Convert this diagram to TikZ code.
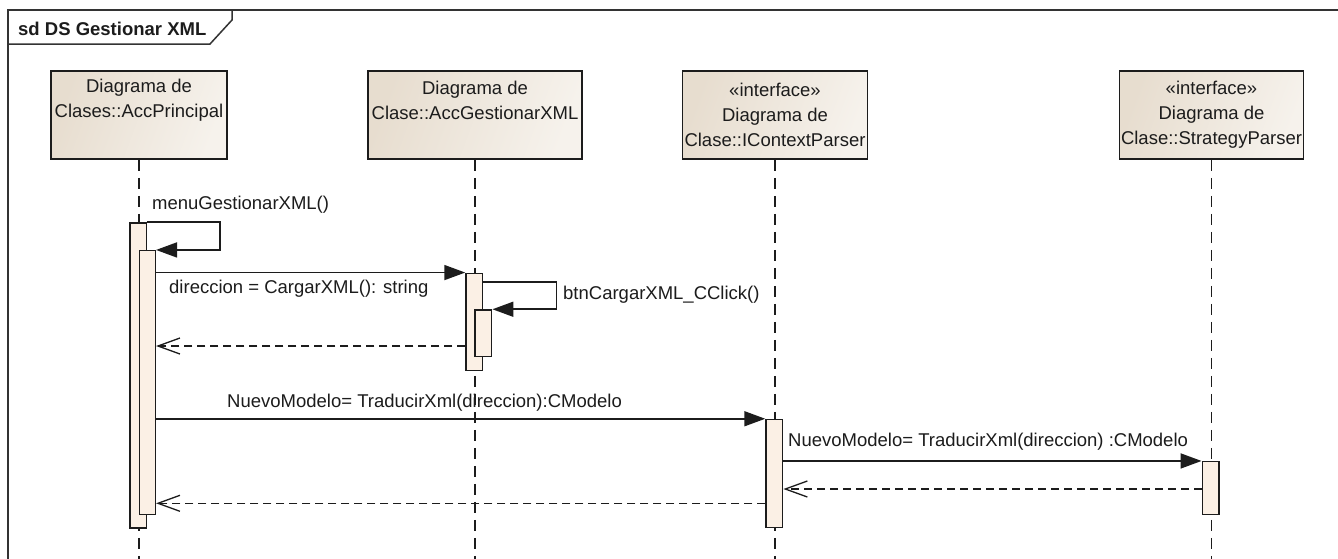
\documentclass[tikz,border=0pt]{standalone}
\usepackage{fontspec}
\setmainfont{Liberation Sans}
\usetikzlibrary{arrows.meta,fit,calc}
\definecolor{boxdark}{HTML}{E7DDCF}
\definecolor{boxlight}{HTML}{F6F2EC}
\definecolor{barfill}{HTML}{FBF0E5}
\definecolor{ink}{HTML}{1C1C1C}
\definecolor{framec}{HTML}{333333}
\begin{document}
\begin{tikzpicture}[x=1pt,y=-1pt,
  txt/.style={inner sep=0pt, text=ink, font=\fontsize{18.5}{25}\selectfont},
  classbox/.style={draw=ink, line width=1.7pt, left color=boxdark, right color=boxlight,
    shading angle=70, minimum height=88pt, inner sep=0pt},
  boxtext/.style={txt, align=center},
  actbar/.style={draw=ink, line width=1.5pt, fill=barfill, inner sep=0pt},
  lifeline/.style={draw=ink, line width=1.8pt, dash pattern=on 11pt off 7pt},
  msg/.style={draw=ink, line width=1.7pt, -{Triangle[length=21pt,width=15pt]}},
  ret/.style={draw=ink, line width=1.6pt, dash pattern=on 8pt off 5pt,
    -{Straight Barb[length=22pt,width=16pt,line width=1.3pt]}},
  frameline/.style={draw=framec, line width=2.2pt}
]
\useasboundingbox (0,0) rectangle (1338,558);
\clip (0,0) rectangle (1338,558);
\fill[white] (0,0) rectangle (1338,558);

% frame of the interaction and its name tab
\draw[frameline] (8,600) -- (8,10) -- (1360,10);
\draw[draw=framec, line width=1.5pt] (8,44) -- (210,44) -- (232,20) -- (232,10);
\node[txt, anchor=west, font=\fontsize{18.5}{22}\selectfont\bfseries] (title) at (18,29) {sd DS Gestionar XML};

% participants
\node[classbox, minimum width=176pt] (p1) at (139,115) {};
\node[classbox, minimum width=214pt] (p2) at (475,115) {};
\node[classbox, minimum width=185pt] (p3) at (775,115) {};
\node[classbox, minimum width=184pt] (p4) at (1211.5,115) {};
\node[boxtext] (p1t) at (139,100.5) {Diagrama de\\Clases::AccPrincipal};
\node[boxtext] (p2t) at (475,100.5) {Diagrama de\\Clase::AccGestionarXML};
\node[boxtext] (p3t) at (775,115) {«interface»\\Diagrama de\\Clase::IContextParser};
\node[boxtext] (p4t) at (1211.5,115) {«interface»\\Diagrama de\\Clase::StrategyParser};

% lifelines
\draw[lifeline] (p1.south) -- (p1.south |- 0,600);
\draw[lifeline] (p2.south) -- (p2.south |- 0,600);
\draw[lifeline] (p3.south) -- (p3.south |- 0,600);
\draw[lifeline] (p4.south) -- (p4.south |- 0,600);

% activation bars
\node[actbar, fit={(130,223) (146.5,528)}] (bar1a) {};
\node[actbar, fit={(139.3,250.7) (155.3,514.3)}] (bar1b) {};
\node[actbar, fit={(466,273.3) (482.7,370.7)}] (bar2a) {};
\node[actbar, fit={(475,310) (491.7,356.7)}] (bar2b) {};
\node[actbar, fit={(766,419.5) (782.7,527.7)}] (bar3) {};
\node[actbar, fit={(1202.3,461.7) (1219,514.3)}] (bar4) {};

% messages
\draw[msg] (bar1a.north east) -- ++(73,0) |- (bar1b.north east);
\node[txt, anchor=west] (m1) at (152,205) {menuGestionarXML()};

\draw[msg] (bar1b.east |- bar2a.north) -- (bar2a.north west);
\node[txt, anchor=west] (m2) at (169,289) {direccion = CargarXML(): string};

\draw[msg] ($(bar2a.north east)+(0,9.4)$) -- ++(73,0) |- (bar2b.north east);
\node[txt, anchor=west] (m3) at (563,295) {btnCargarXML\_CClick()};

\draw[ret] (bar2a.west |- 0,346) -- (bar1b.east |- 0,346);

\draw[msg] (bar1b.east |- bar3.north) -- (bar3.north west);
\node[txt, anchor=west] (m4) at (227,403) {NuevoModelo= TraducirXml(direccion):CModelo};

\draw[msg] (bar3.east |- bar4.north) -- (bar4.north west);
\node[txt, anchor=west] (m5) at (788,442) {NuevoModelo= TraducirXml(direccion) :CModelo};

\draw[ret] (bar4.west |- 0,489) -- (bar3.east |- 0,489);
\draw[ret] (bar3.west |- 0,503.3) -- (bar1b.east |- 0,503.3);
\end{tikzpicture}
\end{document}
